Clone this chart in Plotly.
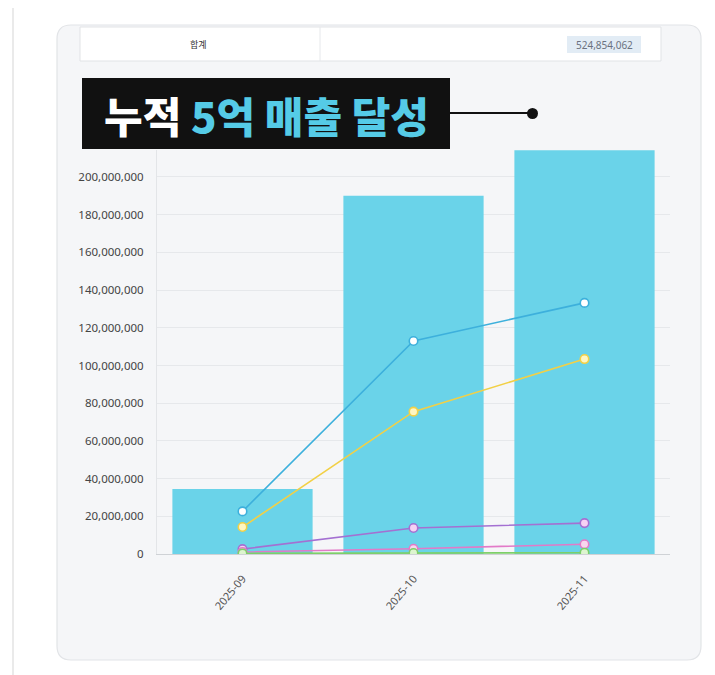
import plotly.graph_objects as go

# ---- data ----
months = ["2025-09", "2025-10", "2025-11"]
total_sales = [34_500_000, 190_000_000, 214_200_000]

line_names = ["채널 A", "채널 B", "채널 C", "채널 D", "채널 E"]
line_a = [22_600_000, 113_000_000, 133_200_000]
line_b = [14_300_000, 75_500_000, 103_400_000]
line_c = [2_600_000, 13_800_000, 16_400_000]
line_d = [1_100_000, 2_800_000, 5_200_000]
line_e = [300_000, 500_000, 700_000]

y_ticks = list(range(0, 200_000_001, 20_000_000))
grand_total = "524,854,062"
headline_white = "누적"
headline_cyan = "5억 매출 달성"

# ---- geometry (screen pixels; the page body adds an 8px offset) ----
OFF = 8
W, H = 715 - OFF, 675 - OFF
L, R, T, B = 157, 670, 150, 554  # plot area in screen pixels


def px(x):
    return (x - L) / (R - L)


def py(y):
    return (B - y) / (B - T)


def round_rect(x0, y0, x1, y1, r):
    pts = [
        ("M", x0 + r, y0), ("L", x1 - r, y0), ("Q", x1, y0, x1, y0 + r),
        ("L", x1, y1 - r), ("Q", x1, y1, x1 - r, y1), ("L", x0 + r, y1),
        ("Q", x0, y1, x0, y1 - r), ("L", x0, y0 + r), ("Q", x0, y0, x0 + r, y0),
    ]
    out = []
    for p in pts:
        cmd, coords = p[0], p[1:]
        xy = []
        for i in range(0, len(coords), 2):
            xy.append(f"{px(coords[i]):.5f},{py(coords[i + 1]):.5f}")
        out.append(cmd + " ".join(xy))
    return " ".join(out) + " Z"


fig = go.Figure()

fig.add_trace(go.Bar(
    x=months, y=total_sales, name="누적 매출",
    marker=dict(color="#6AD3E9", line=dict(width=0)),
    hoverinfo="skip",
))

line_styles = [
    ("#3DB0DC", "#FFFFFF"),
    ("#F2D046", "#FFF6C2"),
    ("#A470D2", "#F6D2F4"),
    ("#E27AC8", "#F8D6EE"),
    ("#7DCF68", "#DDF5CF"),
]
for name, vals, (col, fill) in zip(line_names, [line_a, line_b, line_c, line_d, line_e], line_styles):
    fig.add_trace(go.Scatter(
        x=months, y=vals, name=name, mode="lines+markers",
        line=dict(color=col, width=1.6),
        marker=dict(size=8.5, color=fill, line=dict(color=col, width=1.6)),
        hoverinfo="skip",
    ))

P = dict(xref="paper", yref="paper")
shapes = [
    # page border line on the left
    dict(type="line", x0=px(13), x1=px(13), y0=py(0), y1=py(680),
         line=dict(color="#E3E3E3", width=1.5), layer="below", **P),
    # card
    dict(type="path", path=round_rect(57, 25, 701, 660, 14),
         fillcolor="#F5F6F8", line=dict(color="#E2E4E7", width=1.2), layer="below", **P),
    # table row
    dict(type="rect", x0=px(80), x1=px(661), y0=py(27), y1=py(61),
         fillcolor="#FFFFFF", line=dict(color="#E1E3E6", width=1), layer="below", **P),
    dict(type="line", x0=px(320), x1=px(320), y0=py(27), y1=py(61),
         line=dict(color="#E6E8EB", width=1), layer="below", **P),
    dict(type="rect", x0=px(567), x1=px(641), y0=py(36), y1=py(53),
         fillcolor="#E2ECF5", line=dict(width=0), layer="below", **P),
    # headline box and pointer
    dict(type="rect", x0=px(82), x1=px(450), y0=py(78), y1=py(149),
         fillcolor="#111111", line=dict(width=0), layer="above", **P),
    dict(type="line", x0=px(450), x1=px(532), y0=py(113), y1=py(113),
         line=dict(color="#111111", width=2), layer="above", **P),
    dict(type="circle", x0=px(527), x1=px(538), y0=py(108), y1=py(119),
         fillcolor="#111111", line=dict(width=0), layer="above", **P),
]

annotations = [
    dict(x=px(198), y=py(44), text="합계", showarrow=False,
         xanchor="center", yanchor="middle",
         font=dict(family="Noto Sans CJK KR", size=9, color="#333333"), **P),
    dict(x=px(604), y=py(44.5), text=grand_total, showarrow=False,
         xanchor="center", yanchor="middle",
         font=dict(family="Noto Sans", size=10, color="#6B7280"), **P),
    dict(x=px(266), y=py(115), showarrow=False, xanchor="center", yanchor="middle",
         text=f"{headline_white} <span style='color:#55CBE7'>{headline_cyan}</span>",
         font=dict(family="Noto Sans CJK KR", size=42, color="#FFFFFF", weight=900), **P),
]

fig.update_layout(
    width=W, height=H,
    margin=dict(l=L - OFF, r=715 - R, t=T - OFF, b=675 - B),
    paper_bgcolor="#FFFFFF",
    plot_bgcolor="rgba(0,0,0,0)",
    showlegend=False,
    bargap=0.18,
    shapes=shapes,
    annotations=annotations,
    font=dict(family="Noto Sans, Noto Sans CJK KR", color="#555555"),
)

fig.update_xaxes(
    type="category",
    tickangle=-50, tickfont=dict(size=11, color="#555555"),
    showline=True, linecolor="#CFD2D6", linewidth=1,
    showgrid=False, ticks="", ticklabelstandoff=13,
)
fig.update_yaxes(
    range=[0, 214_300_000], tickvals=y_ticks, tickformat=",d",
    tickfont=dict(size=11.5, color="#444444"),
    showgrid=True, gridcolor="#E6E8EB", gridwidth=1,
    showline=True, linecolor="#E3E5E8", zeroline=False,
    ticklabelstandoff=10,
)

fig.write_html("out.html")
